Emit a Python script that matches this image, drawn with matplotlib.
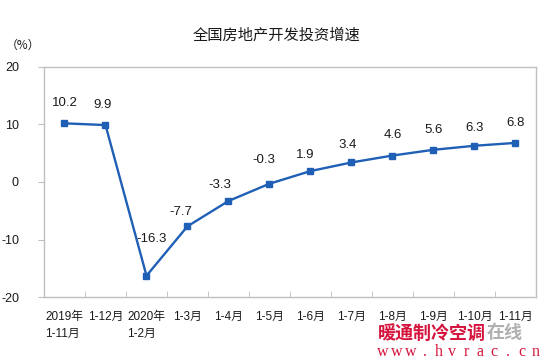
import matplotlib
matplotlib.use("Agg")
import matplotlib.pyplot as plt
import numpy as np

plt.rcParams['font.family'] = ['Liberation Sans', 'Noto Sans CJK SC', 'DejaVu Sans']

# data
categories = ["2019年\n1-11月", "1-12月", "2020年\n1-2月", "1-3月", "1-4月", "1-5月",
              "1-6月", "1-7月", "1-8月", "1-9月", "1-10月", "1-11月"]
growth = [10.2, 9.9, -16.3, -7.7, -3.3, -0.3, 1.9, 3.4, 4.6, 5.6, 6.3, 6.8]
yticks = [-20, -10, 0, 10, 20]

line_color = '#1F5FB5'
frame_color = '#BFBFBF'

fig = plt.figure(figsize=(5.5, 3.64), dpi=100)
ax = fig.add_axes([0.08, 0.184, 0.8945, 0.632])

x = np.arange(len(categories))
ax.plot(x, growth, color=line_color, linewidth=1.7, marker='s', markersize=5)

# value labels (offsets in pixels, label centre relative to point)
offsets = [(0, 20), (-3, 20), (5, 37), (-7, 14), (-9, 16), (-6, 24), (-5, 16),
           (-4, 17), (0, 21), (0, 20), (0, 18), (0, 20)]
for xi, yi, off in zip(x, growth, offsets):
    ax.annotate(f"{yi:g}", (xi, yi), xytext=off, textcoords='offset pixels',
                ha='center', va='center', fontsize=9.5, color='#1a1a1a')

ax.set_xlim(-0.5, len(categories) - 0.5)
ax.set_ylim(-20, 20)
ax.set_yticks(yticks)
ax.set_yticklabels([str(t) for t in yticks])
ax.tick_params(axis='y', direction='out', length=4, color=frame_color,
               labelsize=9, labelcolor='#1a1a1a', pad=14)

# category labels centred, ticks at boundaries
ax.set_xticks(x)
ax.set_xticklabels(categories, fontsize=8.5, linespacing=1.6, va='top')
ax.tick_params(axis='x', length=0, pad=10, labelcolor='#1a1a1a')
ax.set_xticks(np.arange(len(categories) + 1) - 0.5, minor=True)
ax.tick_params(axis='x', which='minor', direction='in', length=4, color=frame_color)
for lbl in ax.get_xticklabels():
    lbl.set_multialignment('left')

for s in ax.spines.values():
    s.set_color(frame_color)
    s.set_linewidth(1)

fig.text(277 / 550, 1 - 35 / 364, "全国房地产开发投资增速", ha='center', va='center',
         fontsize=11, family=['Noto Sans CJK SC'], color='#1a1a1a')
fig.text(6 / 550, 1 - 45 / 364, "（%）", ha='left', va='center', fontsize=8.5,
         family=['Noto Sans CJK SC'], color='#1a1a1a')

# watermark
fig.text(378 / 550, 1 - 333 / 364, "暖通制冷空调", ha='left', va='center', fontsize=13,
         fontweight='bold', family=['Noto Sans CJK SC'], color='#D4143C')
fig.text(487 / 550, 1 - 333 / 364, "在线", ha='left', va='center', fontsize=13,
         fontweight='bold', family=['Noto Sans CJK SC'], color='#B0B0B0')
for i, ch in enumerate("www.hvrac.cn"):
    fig.text((383 + i * 13.9) / 550, 1 - 352 / 364, ch, ha='center', va='center',
             fontsize=11.5, family=['Liberation Serif'], color='#D4143C')

fig.savefig("out.png", dpi=100)
